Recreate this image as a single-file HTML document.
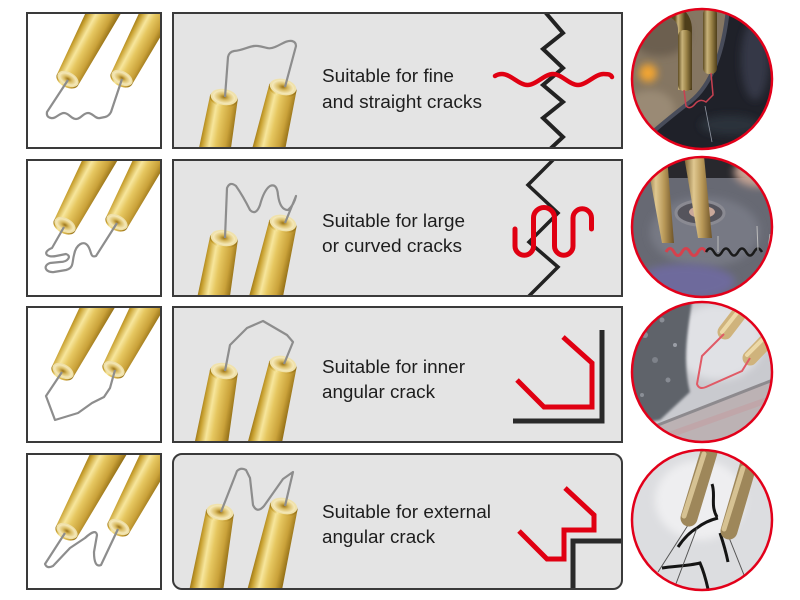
<!DOCTYPE html>
<html><head><meta charset="utf-8"><style>
html,body{margin:0;padding:0;background:#fff;width:800px;height:600px;overflow:hidden;}
svg{display:block;}
text{font-family:"Liberation Sans",Arial,sans-serif;font-size:18px;fill:#1e1e1e;}
</style></head><body>
<svg width="800" height="600" viewBox="0 0 800 600" xmlns="http://www.w3.org/2000/svg">
<defs>
<linearGradient id="g" x1="0" y1="0" x2="1" y2="0">
<stop offset="0" stop-color="#9a7414"/>
<stop offset="0.12" stop-color="#c9a232"/>
<stop offset="0.32" stop-color="#f7e69c"/>
<stop offset="0.5" stop-color="#e6c760"/>
<stop offset="0.78" stop-color="#caa23a"/>
<stop offset="1" stop-color="#8e6a12"/>
</linearGradient>
<radialGradient id="cone" cx="0.5" cy="0.5" r="0.5">
<stop offset="0" stop-color="#9c7418"/>
<stop offset="0.45" stop-color="#d9bb62"/>
<stop offset="1" stop-color="#f7ecc0"/>
</radialGradient>
<linearGradient id="gp" x1="0" y1="0" x2="1" y2="0">
<stop offset="0" stop-color="#5e4c22"/>
<stop offset="0.3" stop-color="#c8b27a"/>
<stop offset="0.6" stop-color="#9c8448"/>
<stop offset="1" stop-color="#4e3e1a"/>
</linearGradient>
<linearGradient id="gp2" x1="0" y1="0" x2="1" y2="0">
<stop offset="0" stop-color="#7a6030"/>
<stop offset="0.35" stop-color="#e0c890"/>
<stop offset="0.65" stop-color="#b89858"/>
<stop offset="1" stop-color="#6e5428"/>
</linearGradient>
<filter id="bl" x="-50%" y="-50%" width="200%" height="200%"><feGaussianBlur stdDeviation="4"/></filter>
<filter id="bs"><feGaussianBlur stdDeviation="1.2"/></filter>
<g id="tubeL1">
<polygon points="-12,0 12,0 16,-84 -16,-76" fill="url(#g)"/>
<ellipse cx="0" cy="1" rx="12" ry="7.5" fill="url(#g)"/>
<ellipse cx="0" cy="0" rx="11.5" ry="6.8" fill="#efe0a8"/>
<ellipse cx="0" cy="0" rx="9.5" ry="5.3" fill="url(#cone)"/>
</g>
<g id="tubeL">
<polygon points="-12,0 12,0 17,-100 -17,-100" fill="url(#g)"/>
<ellipse cx="0" cy="1" rx="12" ry="7.5" fill="url(#g)"/>
<ellipse cx="0" cy="0" rx="11.5" ry="6.8" fill="#efe0a8"/>
<ellipse cx="0" cy="0" rx="9.5" ry="5.3" fill="url(#cone)"/>
</g>
<g id="tubeM">
<polygon points="-14,0 14,0 17,84 -17,92" fill="url(#g)"/>
<ellipse cx="0" cy="1.5" rx="14" ry="8.5" fill="url(#g)"/>
<ellipse cx="0" cy="0" rx="13.5" ry="8" fill="#f0e2ac"/>
<ellipse cx="0" cy="0" rx="11" ry="6.5" fill="url(#cone)"/>
</g>
<clipPath id="L1"><rect x="27" y="13" width="134" height="135"/></clipPath>
<clipPath id="L2"><rect x="27" y="160" width="134" height="136"/></clipPath>
<clipPath id="L3"><rect x="27" y="307" width="134" height="135"/></clipPath>
<clipPath id="L4"><rect x="27" y="454" width="134" height="135"/></clipPath>
<clipPath id="M1"><rect x="173" y="13" width="449" height="135"/></clipPath>
<clipPath id="M2"><rect x="173" y="160" width="449" height="136"/></clipPath>
<clipPath id="M3"><rect x="173" y="307" width="449" height="135"/></clipPath>
<clipPath id="M4"><rect x="173" y="454" width="449" height="135" rx="9"/></clipPath>
<clipPath id="C1"><circle cx="702" cy="79" r="70"/></clipPath>
<clipPath id="C2"><circle cx="702" cy="227" r="70"/></clipPath>
<clipPath id="C3"><circle cx="702" cy="372" r="70"/></clipPath>
<clipPath id="C4"><circle cx="702" cy="520" r="70"/></clipPath>
</defs>

<!-- ========== ROW 1 ========== -->
<rect x="27" y="13" width="134" height="135" fill="#fff"/>
<g clip-path="url(#L1)">
<use href="#tubeL1" transform="translate(68,79) rotate(28)"/>
<use href="#tubeL1" transform="translate(122,78) rotate(28)"/>
<path d="M68,80 L47,112 Q46,117 51,118 C56,119 59,113 64,113 S71,119 76,119 S83,113 88,113 S95,119 100,118 L105,117 Q109,116 111,112 L122,79" fill="none" stroke="#8d8d8d" stroke-width="2.2" stroke-linejoin="round"/>
</g>
<rect x="27" y="13" width="134" height="135" fill="none" stroke="#3a3a3a" stroke-width="2"/>

<rect x="173" y="13" width="449" height="135" fill="#e4e4e4"/>
<g clip-path="url(#M1)">
<use href="#tubeM" transform="translate(224,97) rotate(10)"/>
<use href="#tubeM" transform="translate(283,87) rotate(13)"/>
<path d="M225,97 L228,57 Q229,52 234,51 C245,50 250,45 258,46 S268,50 275,47 S287,40 292,41 Q296,42 296,46 L285,87" fill="none" stroke="#8d8d8d" stroke-width="2.2" stroke-linejoin="round"/>
<polyline points="545,12 563,33 543,49 563,68 543,85 563,102 543,118 563,137 549,150" fill="none" stroke="#222" stroke-width="4" stroke-linejoin="miter"/>
<path d="M495,76 Q498,74 502,74 C510.5,74 519,85 527.5,85 S544.5,74 553,74 S569.5,85 578,85 S595,74 603.5,74 S611,76 612,77" fill="none" stroke="#e00012" stroke-width="4.5" stroke-linecap="round"/>
</g>
<rect x="173" y="13" width="449" height="135" fill="none" stroke="#3a3a3a" stroke-width="2"/>
<text x="322" y="82" textLength="132" lengthAdjust="spacingAndGlyphs">Suitable for fine</text>
<text x="322" y="108" textLength="160" lengthAdjust="spacingAndGlyphs">and straight cracks</text>

<g clip-path="url(#C1)">
<rect x="631" y="8" width="142" height="142" fill="#857662"/>
<ellipse cx="660" cy="34" rx="30" ry="22" fill="#6c5f50" filter="url(#bl)"/>
<ellipse cx="650" cy="110" rx="25" ry="20" fill="#9a8a74" filter="url(#bl)"/>
<circle cx="648" cy="73" r="9" fill="#f2a530" filter="url(#bl)"/>
<path d="M728,8 C724,50 712,85 690,102 C668,118 650,135 631,150 L773,150 L773,8 Z" fill="#1f2129"/>
<ellipse cx="755" cy="60" rx="14" ry="40" fill="#343946" filter="url(#bl)"/>
<ellipse cx="730" cy="125" rx="30" ry="10" fill="#2c303a" filter="url(#bl)"/>
<path d="M728,8 C724,50 712,85 690,102 C668,118 650,135 631,150" stroke="#484c5a" stroke-width="4" fill="none"/>
<path d="M685,90 L685,30 Q685,18 675,12" fill="none" stroke="url(#gp)" stroke-width="14"/>
<rect x="678" y="30" width="14" height="61" rx="6" fill="url(#gp)"/>
<rect x="703" y="8" width="14" height="66" rx="6" fill="url(#gp)"/>
<path d="M684,90 L686,106 Q690,110 695,104 T706,102 L713,95 L711,73" fill="none" stroke="#c84050" stroke-width="1.5"/>
<path d="M705,106 L712,142" stroke="#8e94a0" stroke-width="0.8"/>
</g>
<circle cx="702" cy="79" r="70" fill="none" stroke="#e2001a" stroke-width="2.5"/>

<!-- ========== ROW 2 ========== -->
<rect x="27" y="160" width="134" height="136" fill="#fff"/>
<g clip-path="url(#L2)">
<use href="#tubeL" transform="translate(65,225) rotate(28)"/>
<use href="#tubeL" transform="translate(117,222) rotate(28)"/>
<path d="M64,227 L52,248 C42,252 46,258 56,256 L66,254 C72,256 68,262 60,262 L50,263 C42,266 46,273 54,272 L66,270 C74,268 72,262 74,255 C76,244 84,240 88,246 C92,252 90,258 96,256 L117,223" fill="none" stroke="#8d8d8d" stroke-width="2.2" stroke-linejoin="round"/>
</g>
<rect x="27" y="160" width="134" height="136" fill="none" stroke="#3a3a3a" stroke-width="2"/>

<rect x="173" y="160" width="449" height="136" fill="#e4e4e4"/>
<g clip-path="url(#M2)">
<use href="#tubeM" transform="translate(224,238) rotate(10)"/>
<use href="#tubeM" transform="translate(283,223) rotate(13)"/>
<path d="M225,238 L227,188 Q230,181 236,186 Q243,196 250,210 Q256,216 260,205 Q264,190 270,186 Q277,183 278,195 Q280,210 288,210 Q294,205 296,196 L285,223" fill="none" stroke="#8d8d8d" stroke-width="2.2" stroke-linejoin="round"/>
<polyline points="555,158 528,185 558,213 529,242 558,267 527,298" fill="none" stroke="#222" stroke-width="3.5"/>
<path d="M515,229 V246 A9.25,9.25 0 0 0 533.5,246 V218 A10.5,10.5 0 0 1 554.5,218 V246 A9.25,9.25 0 0 0 573,246 V218 A9.25,9.25 0 0 1 591.5,218 V229" fill="none" stroke="#e00012" stroke-width="5" stroke-linecap="round"/>
</g>
<rect x="173" y="160" width="449" height="136" fill="none" stroke="#3a3a3a" stroke-width="2"/>
<text x="322" y="227" textLength="143" lengthAdjust="spacingAndGlyphs">Suitable for large</text>
<text x="322" y="252" textLength="140" lengthAdjust="spacingAndGlyphs">or curved cracks</text>

<g clip-path="url(#C2)">
<rect x="631" y="156" width="142" height="142" fill="#676973"/>
<ellipse cx="705" cy="232" rx="55" ry="35" fill="#777984" filter="url(#bl)"/>
<rect x="631" y="156" width="142" height="22" fill="#28282d"/>
<ellipse cx="760" cy="172" rx="26" ry="15" fill="#c4a292" filter="url(#bl)"/>
<ellipse cx="685" cy="282" rx="50" ry="18" fill="#6e6b9c" filter="url(#bl)"/>
<ellipse cx="700" cy="213" rx="24" ry="12" fill="#55545c" stroke="#8a8a92" stroke-width="3"/>
<ellipse cx="702" cy="212" rx="13" ry="6" fill="#c9a89a"/>
<polygon points="646,156 667,156 674,243 662,243" fill="url(#gp2)"/>
<polygon points="684,156 704,156 712,238 698,238" fill="url(#gp2)"/>
<path d="M666,252 q4,-7 8,0 t8,0 t8,0 t8,0 t8,0" fill="none" stroke="#d5414d" stroke-width="3"/>
<path d="M706,252 q4,-7 8,0 t8,0 t8,0 t8,0 t8,0 t8,0 t8,0" fill="none" stroke="#1a1a1a" stroke-width="2.5"/>
<path d="M718,252 L718,236 M758,250 L757,226 M768,250 L770,234" stroke="#bdbdbd" stroke-width="1"/>
</g>
<circle cx="702" cy="227" r="70" fill="none" stroke="#e2001a" stroke-width="2.5"/>

<!-- ========== ROW 3 ========== -->
<rect x="27" y="307" width="134" height="135" fill="#fff"/>
<g clip-path="url(#L3)">
<use href="#tubeL" transform="translate(63,371) rotate(28)"/>
<use href="#tubeL" transform="translate(114,369) rotate(28)"/>
<path d="M62,372 L46,396 L55,420 L78,413 L92,403 L104,397 L110,388 L115,370" fill="none" stroke="#8d8d8d" stroke-width="2.2" stroke-linejoin="round"/>
</g>
<rect x="27" y="307" width="134" height="135" fill="none" stroke="#3a3a3a" stroke-width="2"/>

<rect x="173" y="307" width="449" height="135" fill="#e4e4e4"/>
<g clip-path="url(#M3)">
<use href="#tubeM" transform="translate(224,371) rotate(10)"/>
<use href="#tubeM" transform="translate(283,364) rotate(13)"/>
<path d="M225,371 L230,345 L247,328 L263,321 L287,335 L293,342 L284,364" fill="none" stroke="#8d8d8d" stroke-width="2.2" stroke-linejoin="round"/>
<path d="M602,330 V421 H513" fill="none" stroke="#2a2a2a" stroke-width="5"/>
<path d="M517,380 L544,407 H592 V363 L563,337" fill="none" stroke="#e00012" stroke-width="5"/>
</g>
<rect x="173" y="307" width="449" height="135" fill="none" stroke="#3a3a3a" stroke-width="2"/>
<text x="322" y="373" textLength="143" lengthAdjust="spacingAndGlyphs">Suitable for inner</text>
<text x="322" y="398" textLength="113" lengthAdjust="spacingAndGlyphs">angular crack</text>

<g clip-path="url(#C3)">
<rect x="631" y="301" width="142" height="142" fill="#c9cacf"/>
<ellipse cx="718" cy="342" rx="45" ry="38" fill="#e0e1e5" filter="url(#bl)"/>
<path d="M631,301 L692,301 C688,330 682,360 690,392 L660,420 L631,425 Z" fill="#5f636b" filter="url(#bs)"/>
<circle cx="645" cy="335" r="3" fill="#8a8e96"/>
<circle cx="662" cy="320" r="2.5" fill="#8a8e96"/>
<circle cx="655" cy="360" r="3" fill="#7e828a"/>
<circle cx="675" cy="345" r="2" fill="#9a9ea6"/>
<circle cx="668" cy="380" r="2.5" fill="#878b93"/>
<circle cx="642" cy="395" r="2" fill="#8a8e96"/>
<path d="M640,432 L773,380 L773,443 L640,443 Z" fill="#bcb2b4"/>
<path d="M640,432 L773,380" stroke="#8d8a8e" stroke-width="3"/>
<path d="M655,440 L773,398" stroke="#c49a9e" stroke-width="6" opacity="0.5"/>
<line x1="748" y1="302" x2="725" y2="332" stroke="#cfb37c" stroke-width="15" stroke-linecap="round"/>
<line x1="744" y1="304" x2="722" y2="332" stroke="#ecd9a8" stroke-width="4" stroke-linecap="round"/>
<line x1="773" y1="334" x2="750" y2="358" stroke="#cfb37c" stroke-width="15" stroke-linecap="round"/>
<line x1="769" y1="333" x2="747" y2="355" stroke="#ecd9a8" stroke-width="4" stroke-linecap="round"/>
<path d="M724,334 L702,356 L697,384 Q699,390 706,387 L742,371 L750,358" fill="none" stroke="#e05a66" stroke-width="2"/>
</g>
<circle cx="702" cy="372" r="70" fill="none" stroke="#e2001a" stroke-width="2.5"/>

<!-- ========== ROW 4 ========== -->
<rect x="27" y="454" width="134" height="135" fill="#fff"/>
<g clip-path="url(#L4)">
<use href="#tubeL" transform="translate(67,531) rotate(28)"/>
<use href="#tubeL" transform="translate(119,527) rotate(28)"/>
<path d="M65,533 L45,564 Q47,569 53,566 L70,548 L85,538 Q96,528 97,535 L94,552 Q94,568 101,565 L118,529" fill="none" stroke="#8d8d8d" stroke-width="2.2" stroke-linejoin="round"/>
</g>
<rect x="27" y="454" width="134" height="135" fill="none" stroke="#3a3a3a" stroke-width="2"/>

<rect x="173" y="454" width="449" height="135" rx="9" fill="#e4e4e4"/>
<g clip-path="url(#M4)">
<use href="#tubeM" transform="translate(220,512) rotate(10)"/>
<use href="#tubeM" transform="translate(284,506) rotate(13)"/>
<path d="M221,512 L237,471 Q241,467 246,470 L250,478 L253,505 Q257,514 264,506 L283,479 L293,472 L285,506" fill="none" stroke="#8d8d8d" stroke-width="2.2" stroke-linejoin="round"/>
<path d="M622,541 H573 V590" fill="none" stroke="#2a2a2a" stroke-width="5"/>
<path d="M519,531 L547,559 H564 V530 H594 V515 L565,488" fill="none" stroke="#e00012" stroke-width="5"/>
</g>
<rect x="173" y="454" width="449" height="135" rx="9" fill="none" stroke="#3a3a3a" stroke-width="2"/>
<text x="322" y="518" textLength="169" lengthAdjust="spacingAndGlyphs">Suitable for external</text>
<text x="322" y="543" textLength="113" lengthAdjust="spacingAndGlyphs">angular crack</text>

<g clip-path="url(#C4)">
<rect x="631" y="449" width="142" height="142" fill="#dcdde0"/>
<ellipse cx="700" cy="500" rx="45" ry="40" fill="#eeeef0" filter="url(#bl)"/>
<path d="M712,484 C716,495 710,505 717,517 M718,518 C710,520 702,524 697,528 C690,532 684,538 678,547 M720,533 C724,545 726,552 728,562 M662,568 C675,566 688,566 700,563 C704,572 706,580 708,589" fill="none" stroke="#141414" stroke-width="3"/>
<path d="M690,522 L658,572 M697,528 L674,589 M728,535 L748,585" fill="none" stroke="#555" stroke-width="1"/>
<line x1="709" y1="452" x2="689" y2="518" stroke="#9e875a" stroke-width="17" stroke-linecap="round"/>
<line x1="704" y1="454" x2="684" y2="516" stroke="#d6c293" stroke-width="5" stroke-linecap="round"/>
<line x1="748" y1="466" x2="729" y2="531" stroke="#9e875a" stroke-width="17" stroke-linecap="round"/>
<line x1="743" y1="468" x2="724" y2="529" stroke="#d6c293" stroke-width="5" stroke-linecap="round"/>
</g>
<circle cx="702" cy="520" r="70" fill="none" stroke="#e2001a" stroke-width="2.5"/>
</svg>
</body></html>
